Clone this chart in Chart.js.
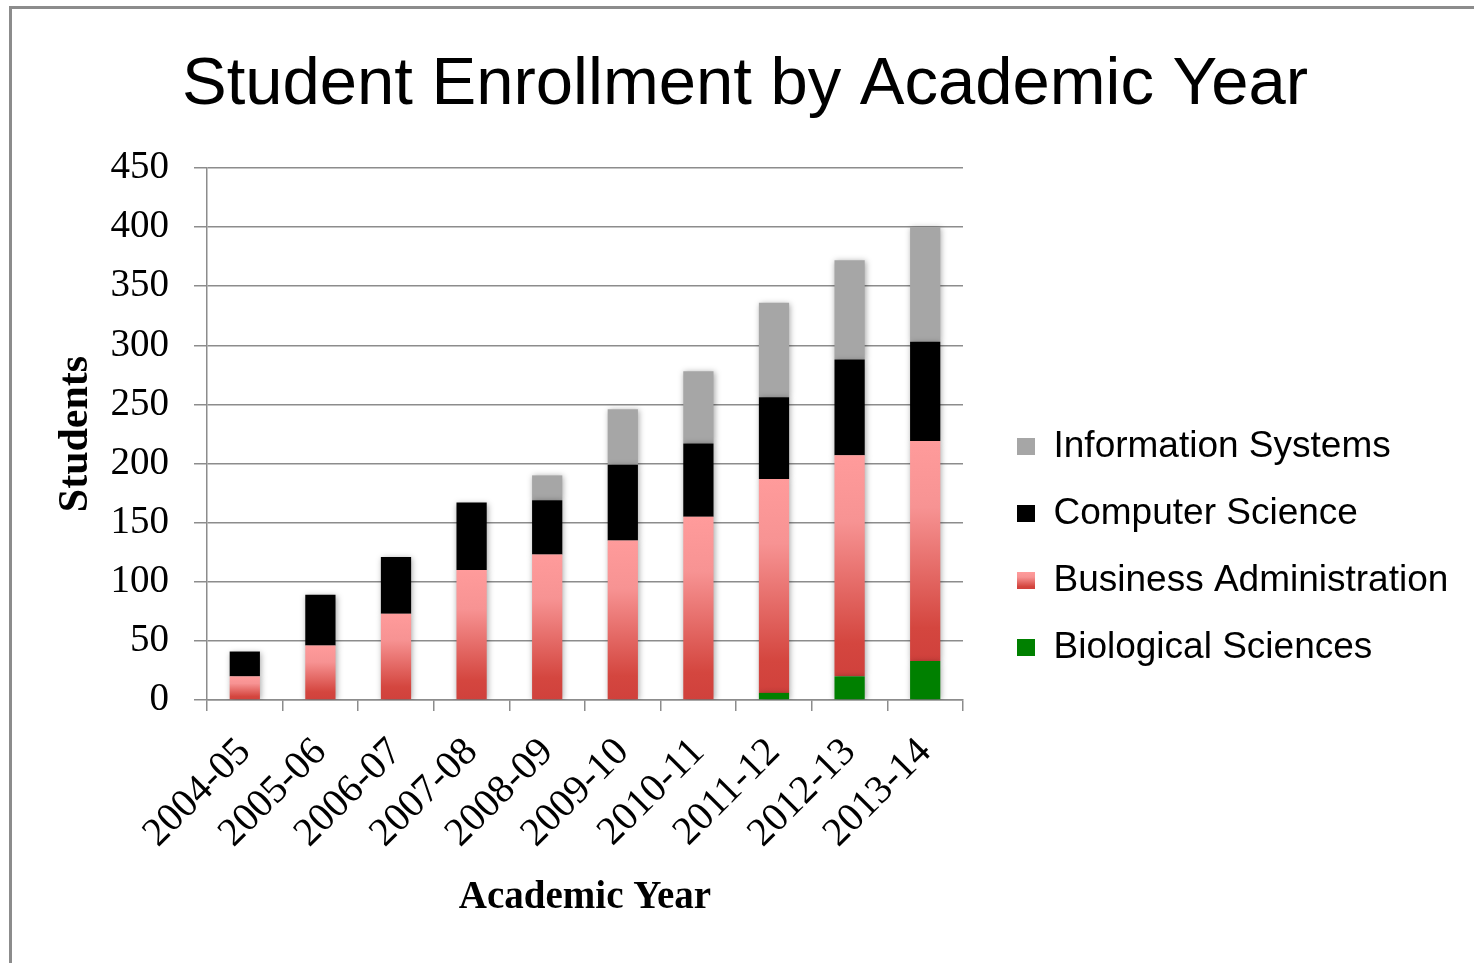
<!DOCTYPE html>
<html>
<head>
<meta charset="utf-8">
<script src="https://cdn.jsdelivr.net/npm/chart.js@4/dist/chart.umd.min.js"></script>
<style>
html, body { margin: 0; padding: 0; background: #fff; overflow: hidden; width: 1474px; height: 963px; }
#frame { position: absolute; left: 9px; top: 6px; width: 1500px; height: 1000px; border-left: 3px solid #8c8c8c; border-top: 3px solid #8c8c8c; }
#wrap { position: absolute; left: 0; top: 0; width: 1474px; height: 963px; }
</style>
</head>
<body>
<div id="frame"></div>
<div id="wrap"><canvas id="c" width="1474" height="963"></canvas></div>
<script>
// ---- data ----
const categories = ['2004-05', '2005-06', '2006-07', '2007-08', '2008-09', '2009-10', '2010-11', '2011-12', '2012-13', '2013-14'];
const biologicalSciences = [0, 0, 0, 0, 0, 0, 0, 6, 20, 33];
const businessAdministration = [20, 46, 73, 110, 123, 135, 155, 181, 187, 186];
const computerScience = [21, 43, 48, 57, 46, 64, 62, 69, 81, 84];
const informationSystems = [0, 0, 0, 0, 21, 47, 61, 80, 84, 97];
const seriesNames = ['Biological Sciences', 'Business Administration', 'Computer Science', 'Information Systems'];
const yMin = 0, yMax = 450, yStep = 50;
const chartTitle = 'Student Enrollment by Academic Year';
const xTitle = 'Academic Year';
const yTitle = 'Students';

// ---- styles / layout ----
const SANS = '"Liberation Sans", Arial, sans-serif';
const SERIF = '"Liberation Serif", "Times New Roman", serif';
const GRID = '#8c8c8c';
const W = 1474, H = 963;
const PLOT_LEFT = 207, PLOT_RIGHT = 963, PLOT_TOP = 168, PLOT_BOTTOM = 700;
const TITLE_CENTER_X = 745;
const LEG_FONT = 37, LEG_BOX_W = 18, LEG_BOX_H = 17, LEG_PAD = 30, LEG_GAP = 24, LEG_SHIFT = 4;

const mc = document.createElement('canvas').getContext('2d');
mc.font = 'normal ' + LEG_FONT + 'px ' + SANS;
const legendTextW = Math.max(...seriesNames.map(n => mc.measureText(n).width));
const legendW = LEG_BOX_W + LEG_FONT / 2 + legendTextW + 10;
const padRight = W - PLOT_RIGHT - LEG_GAP - legendW;
const padLeft = 2 * TITLE_CENTER_X - W + padRight;
const yAxisW = PLOT_LEFT - padLeft;
const yTitleFont = 42;
const yTitlePad = 75.8 - padLeft - (yTitleFont * 1.2) / 2;

function baGradient(c, y0, y1) {
  const g = c.createLinearGradient(0, y0, 0, y1);
  g.addColorStop(0, '#ff9b9b');
  g.addColorStop(0.3, '#f79393');
  g.addColorStop(0.85, '#d4463f');
  g.addColorStop(1, '#d0413c');
  return g;
}

function baFill(ctx) {
  const chart = ctx.chart;
  if (ctx.type !== 'data' || !chart.chartArea || !chart.scales.y) return '#ee7d7a';
  const i = ctx.dataIndex;
  const ys = chart.scales.y;
  const base = biologicalSciences[i];
  const top = base + businessAdministration[i];
  return baGradient(chart.ctx, ys.getPixelForValue(top), ys.getPixelForValue(base));
}

const barShadow = {
  id: 'barShadow',
  beforeDatasetsDraw(chart) {
    const c = chart.ctx;
    c.save();
    c.shadowColor = 'rgba(0,0,0,0.35)';
    c.shadowBlur = 6;
    c.shadowOffsetX = 1;
    c.shadowOffsetY = 1;
  },
  afterDatasetsDraw(chart) { chart.ctx.restore(); }
};

// widen the legend's clip box (its label padding pushes text past the fitted width) and nudge it up
const legendBox = {
  id: 'legendBox',
  afterLayout(chart) {
    const l = chart.legend;
    if (!l) return;
    l.right += LEG_PAD;
    l.width += LEG_PAD;
    l.top -= LEG_SHIFT;
    l.bottom -= LEG_SHIFT;
  }
};

new Chart(document.getElementById('c'), {
  type: 'bar',
  data: {
    labels: categories,
    datasets: [
      { label: seriesNames[0], data: biologicalSciences, backgroundColor: '#008000' },
      { label: seriesNames[1], data: businessAdministration, backgroundColor: baFill },
      { label: seriesNames[2], data: computerScience, backgroundColor: '#000000' },
      { label: seriesNames[3], data: informationSystems, backgroundColor: '#a6a6a6' }
    ]
  },
  options: {
    responsive: false,
    animation: false,
    events: [],
    datasets: { bar: { categoryPercentage: 0.8, barPercentage: 0.5, borderWidth: 0 } },
    layout: { padding: { left: padLeft, right: padRight, top: 0, bottom: 0 } },
    plugins: {
      title: {
        display: true,
        text: chartTitle,
        color: '#000',
        font: { family: SANS, size: 67, weight: 'normal' },
        padding: { top: 45.3, bottom: 42.3 }
      },
      legend: {
        display: true,
        position: 'right',
        align: 'end',
        fullSize: false,
        reverse: true,
        maxWidth: legendW,
        labels: {
          color: '#000',
          font: { family: SANS, size: LEG_FONT },
          boxWidth: LEG_BOX_W,
          boxHeight: LEG_BOX_H,
          padding: LEG_PAD,
          generateLabels(chart) {
            const items = Chart.defaults.plugins.legend.labels.generateLabels(chart);
            const bottom = (chart.chartArea ? chart.chartArea.bottom : PLOT_BOTTOM) - LEG_SHIFT;
            const step = LEG_FONT + LEG_PAD;
            items.forEach(it => {
              it.lineWidth = 0;
              if (it.text === seriesNames[1]) {
                const top = bottom - 4 * step + 2 * step + (LEG_FONT - LEG_BOX_H) / 2;
                it.fillStyle = baGradient(chart.ctx, top, top + LEG_BOX_H);
              }
            });
            return items;
          }
        }
      },
      tooltip: { enabled: false }
    },
    scales: {
      x: {
        stacked: true,
        grid: { display: true, offset: true, drawOnChartArea: false, drawTicks: true, tickLength: 11, color: GRID, lineWidth: 1.5 },
        border: { display: true, color: GRID, width: 1.5 },
        ticks: { minRotation: 45, maxRotation: 45, autoSkip: false, padding: 18, color: '#000', font: { family: SERIF, size: 40 } },
        title: { display: true, text: xTitle, color: '#000', font: { family: SERIF, size: 39, weight: 'bold' }, padding: { top: 0, bottom: 42 } },
        afterFit(s) { s.height = H - PLOT_BOTTOM; }
      },
      y: {
        stacked: true,
        min: yMin,
        max: yMax,
        ticks: { stepSize: yStep, padding: 25, color: '#000', font: { family: SERIF, size: 39 } },
        grid: { color: GRID, lineWidth: 1.5, tickLength: 13, drawTicks: true },
        border: { display: true, color: GRID, width: 1.5 },
        title: { display: true, text: yTitle, color: '#000', font: { family: SERIF, size: yTitleFont, weight: 'bold' }, padding: { top: yTitlePad, bottom: 0 } },
        afterFit(s) { s.width = yAxisW; }
      },
      yGap: {
        position: 'right',
        display: true,
        grid: { display: false },
        border: { display: false },
        ticks: { display: false },
        afterFit(s) { s.width = LEG_GAP; }
      }
    }
  },
  plugins: [barShadow, legendBox]
});
</script>
</body>
</html>
